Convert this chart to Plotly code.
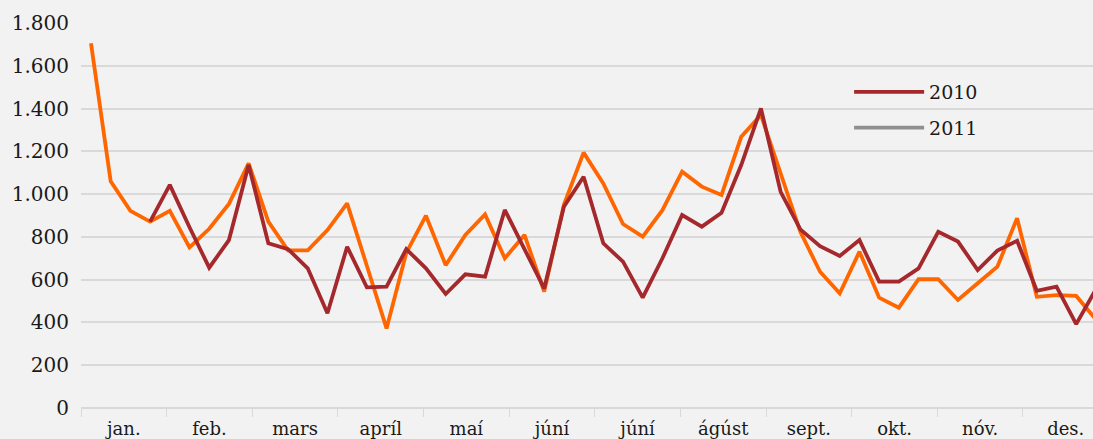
import plotly.graph_objects as go

months = ["jan.", "feb.", "mars", "apríl", "maí", "júní", "júní", "ágúst",
          "sept.", "okt.", "nóv.", "des."]
weeks = list(range(52))

v2010 = [None, None, None, 871, 1043, 845, 656, 785, 1136, 770,
         743, 653, 443, 754, 564, 567, 743, 653, 533, 625,
         614, 926, 745, 559, 941, 1081, 770, 684, 516, 700,
         902, 848, 913, 1136, 1401, 1011, 835, 757, 711, 785,
         591, 591, 653, 824, 778, 645, 736, 782, 548, 567,
         392, 556]

v2011 = [1705, 1060, 922, 871, 922, 751, 838, 954, 1144, 871,
         737, 737, 832, 957, 665, 372, 725, 899, 668, 809,
         905, 700, 809, 544, 950, 1194, 1050, 860, 801, 925,
         1105, 1035, 996, 1268, 1370, 1097, 824, 637, 536, 731,
         516, 469, 602, 602, 505, 583, 661, 887, 520, 528,
         524, 414]

yticks = [0, 200, 400, 600, 800, 1000, 1200, 1400, 1600, 1800]
ytext = ["0", "200", "400", "600", "800", "1.000", "1.200", "1.400", "1.600", "1.800"]

WPM = 52.15 / 12.0
X0 = -0.507
bounds = [X0 + k * WPM for k in range(13)]
centers = [X0 + (k + 0.5) * WPM for k in range(12)]

FONT = "DejaVu Serif"
GRID = "#D9D9D9"
C2010 = "#A4282C"
C2011 = "#FF6600"

fig = go.Figure()
fig.add_trace(go.Scatter(x=weeks, y=v2011, mode="lines", name="2011",
                         line=dict(color=C2011, width=3.8), showlegend=False))
fig.add_trace(go.Scatter(x=weeks, y=v2010, mode="lines", name="2010",
                         line=dict(color=C2010, width=3.8), showlegend=False))
# legend entries (as in the original: 2011 shown in grey)
fig.add_trace(go.Scatter(x=[None], y=[None], mode="lines", name="2010",
                         line=dict(color=C2010, width=3.8), legendgroup="a"))
fig.add_trace(go.Scatter(x=[None], y=[None], mode="lines", name="2011",
                         line=dict(color="#8F8F8F", width=3.8), legendgroup="b"))

fig.update_layout(
    width=1093, height=439,
    margin=dict(l=81, r=0, t=23, b=31),
    paper_bgcolor="#F2F2F2", plot_bgcolor="#F2F2F2",
    font=dict(family=FONT, size=19, color="#1a1a1a"),
    legend=dict(x=0.759, y=0.87, xanchor="left", yanchor="top",
                bgcolor="rgba(0,0,0,0)", font=dict(size=19),
                itemwidth=70, tracegroupgap=8, traceorder="grouped"),
    xaxis=dict(range=[X0, (1093 - 90.7) / 19.71], showgrid=False, zeroline=False,
               tickmode="array", tickvals=centers, ticktext=months, ticks="",
               tickfont=dict(size=18), showline=False, ticklabelstandoff=8,
               minor=dict(tickmode="array", tickvals=bounds, ticks="outside",
                          ticklen=8, tickcolor=GRID, tickwidth=1, showgrid=False)),
    yaxis=dict(range=[0, 1800], tickmode="array", tickvals=yticks, ticktext=ytext,
               showgrid=True, gridcolor=GRID, gridwidth=1.5, zeroline=True,
               zerolinecolor=GRID, zerolinewidth=1.5, ticks="",
               ticklabelstandoff=11, tickfont=dict(size=20)),
)

fig.write_html("out.html", config={"displayModeBar": False},
               post_script="document.body.style.margin='0px';")
